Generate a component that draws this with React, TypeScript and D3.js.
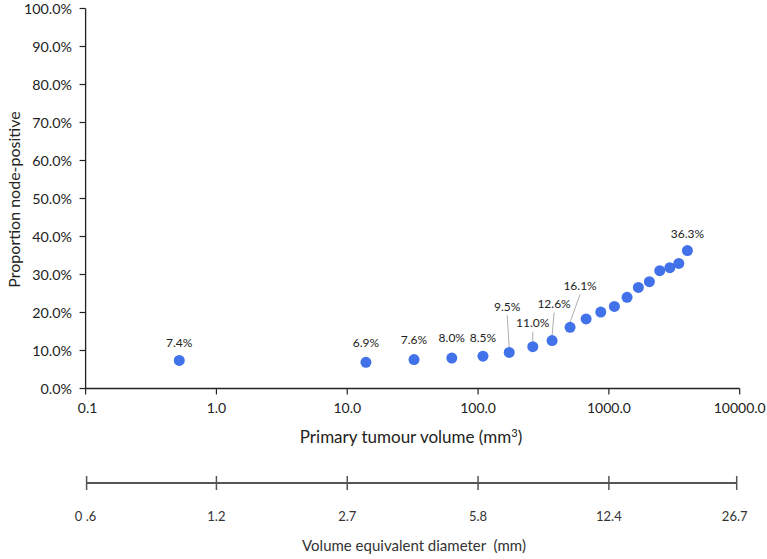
import React from "react";
import * as d3 from "d3";

const volumes = [0.52, 13.9, 32.4, 63, 109, 173, 262, 368, 505, 670, 867, 1102, 1377, 1680, 2040, 2449, 2924, 3423, 3984];
const proportions = [7.4, 6.9, 7.6, 8.0, 8.5, 9.5, 11.0, 12.6, 16.1, 18.3, 20.1, 21.6, 24.0, 26.6, 28.1, 31.0, 31.8, 32.9, 36.3];
const pointLabels = ["7.4%", "6.9%", "7.6%", "8.0%", "8.5%", "9.5%", "11.0%", "12.6%", "16.1%", "", "", "", "", "", "", "", "", "", "36.3%"];
// label offsets (dx, dy of label centre in px) relative to point; leader flag
const labelOffsets: [number, number, boolean][] = [
  [0, -18, false], [0, -19, false], [0, -20, false], [0, -20, false], [0, -18.5, false],
  [-2, -46, true], [0, -24, true], [2, -37, true], [10, -42, true],
  [0, 0, false], [0, 0, false], [0, 0, false], [0, 0, false], [0, 0, false], [0, 0, false],
  [0, 0, false], [0, 0, false], [0, 0, false], [0, -16.5, false],
];
const xTicks = [0.1, 1, 10, 100, 1000, 10000];
const xTickLabels = ["0.1", "1.0", "10.0", "100.0", "1000.0", "10000.0"];
const yTicks = [0, 10, 20, 30, 40, 50, 60, 70, 80, 90, 100];
const diameterLabels = ["0 .6", "1.2", "2.7", "5.8", "12.4", "26.7"];

const FONT = "Lato, 'Open Sans', sans-serif";

export default function App() {
  const W = 767, H = 559;
  const x = d3.scaleLog().domain([0.1, 10000]).range([85.6, 739.7]);
  const y = d3.scaleLinear().domain([0, 100]).range([388.5, 8.5]);
  const axisY = 388.5;
  const axis2Y = 483;
  const blue = "#4272ea";

  return (
    <svg width={W} height={H} style={{ position: "absolute", left: 0, top: 0, background: "#fff" }} fontFamily={FONT}>
      {/* Y axis */}
      <line x1={x.range()[0]} x2={x.range()[0]} y1={y(100)} y2={y(0)} stroke="#222" strokeWidth={1.3} />
      {yTicks.map((t) => (
        <g key={t}>
          <line x1={x.range()[0] - 6} x2={x.range()[0]} y1={y(t)} y2={y(t)} stroke="#222" strokeWidth={1.2} />
          <text x={72} y={y(t)} dy="0.35em" textAnchor="end" fontSize={14.3} fill="#222">{t.toFixed(1)}%</text>
        </g>
      ))}
      <text transform={`translate(14,${y(50) + 1}) rotate(-90)`} textAnchor="middle" dy="0.35em" fontSize={16} fill="#222">Proportion node-positive</text>

      {/* X axis */}
      <line x1={x.range()[0]} x2={x.range()[1]} y1={axisY} y2={axisY} stroke="#222" strokeWidth={1.3} />
      {xTicks.map((t, i) => (
        <g key={t}>
          <line x1={x(t)} x2={x(t)} y1={axisY} y2={axisY + 6} stroke="#222" strokeWidth={1.2} />
          <text x={x(t) + (i === 0 ? 2 : 0)} y={408} dy="0.35em" textAnchor="middle" fontSize={14} fill="#222">{xTickLabels[i]}</text>
        </g>
      ))}
      <text x={411} y={437} dy="0.35em" textAnchor="middle" fontSize={17} fill="#222">
        Primary tumour volume (mm<tspan dy="-6" fontSize={11}>3</tspan><tspan dy="6">)</tspan>
      </text>

      {/* Points */}
      {volumes.map((v, i) => {
        const px = x(v), py = y(proportions[i]);
        const [dx, dy, leader] = labelOffsets[i];
        const lbl = pointLabels[i];
        return (
          <g key={i}>
            {lbl && leader && (
              <line x1={px + dx} x2={px} y1={py + dy + 9} y2={py - 5} stroke="#999" strokeWidth={0.8} />
            )}
            {lbl && (
              <text x={px + dx} y={py + dy} dy="0.35em" textAnchor="middle" fontSize={12} fill="#222">{lbl}</text>
            )}
            <circle cx={px} cy={py} r={5.5} fill={blue} />
          </g>
        );
      })}

      {/* Second axis: diameter */}
      <line x1={x(0.1) + 1} x2={x(10000) - 3} y1={axis2Y} y2={axis2Y} stroke="#555" strokeWidth={2} />
      {xTicks.map((t, i) => (
        <g key={"d" + t}>
          <line x1={x(t) + (i === 0 ? 1 : i === 5 ? -3 : 0)} x2={x(t) + (i === 0 ? 1 : i === 5 ? -3 : 0)} y1={axis2Y - 7} y2={axis2Y + 7} stroke="#555" strokeWidth={1.5} />
          <text x={x(t) + (i === 5 ? -5 : 0)} y={516} dy="0.35em" textAnchor="middle" fontSize={13} fill="#333">{diameterLabels[i]}</text>
        </g>
      ))}
      <text x={414} y={546} dy="0.35em" textAnchor="middle" fontSize={15} fill="#333" style={{ whiteSpace: "pre" }}>Volume equivalent diameter  (mm)</text>
    </svg>
  );
}
